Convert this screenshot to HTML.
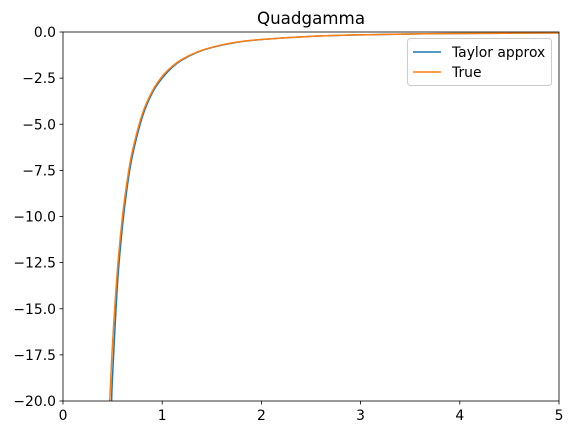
<!DOCTYPE html>
<html><head><meta charset="utf-8"><style>
html,body{margin:0;padding:0;background:#fff;}
svg{display:block;font-family:"DejaVu Sans","Liberation Sans",sans-serif;}
</style></head><body>
<svg id="chart" width="572" height="435" xmlns="http://www.w3.org/2000/svg">
<rect width="572" height="435" fill="#fff"/>
<text x="311" y="24" text-anchor="middle" font-size="16.7">Quadgamma</text>
<g id="plot"></g>
<g id="axes"></g>
<g>
<rect x="407.5" y="38.5" width="144" height="47" rx="3" fill="#fff" fill-opacity="0.8" stroke="#ccc"/>
<line x1="413" y1="52" x2="441" y2="52" stroke="#1f77b4" stroke-width="1.5"/>
<text x="452" y="57" font-size="13.9">Taylor approx</text>
<line x1="413" y1="72" x2="441" y2="72" stroke="#ff7f0e" stroke-width="1.5"/>
<text x="452" y="77" font-size="13.9">True</text>
</g>
</svg>
<script>
const xTicks=[0,1,2,3,4,5];
const yTicks=[0,-2.5,-5,-7.5,-10,-12.5,-15,-17.5,-20];
const yTickLabels=["0.0","−2.5","−5.0","−7.5","−10.0","−12.5","−15.0","−17.5","−20.0"];
const taylorX=[0.49,0.5,0.55,0.6,0.65,0.7,0.8,0.9,1.0,1.1,1.2,1.35,1.5,1.75,2,2.5,3,3.5,4,5];
const taylorY=[-20,-18.6,-13.6,-10.5,-8.3,-6.7,-4.6,-3.3,-2.5,-1.92,-1.52,-1.11,-0.84,-0.56,-0.41,-0.24,-0.155,-0.108,-0.08,-0.049];
const trueX=[0.47,0.5,0.55,0.6,0.65,0.7,0.8,0.9,1.0,1.1,1.2,1.35,1.5,1.75,2,2.5,3,3.5,4,5];
const trueY=[-20.1,-16.83,-12.79,-9.97,-7.94,-6.44,-4.43,-3.2,-2.404,-1.86,-1.48,-1.09,-0.83,-0.55,-0.404,-0.237,-0.154,-0.108,-0.08,-0.049];
const L=63,R=559,T=32,B=401;
const sx=v=>L+(v-0)/(5-0)*(R-L);
const sy=v=>T+(0-v)/(20)*(B-T);
const NS="http://www.w3.org/2000/svg";
const plot=document.getElementById('plot'),axes=document.getElementById('axes');
const defs=document.createElementNS(NS,'defs');
defs.innerHTML='<clipPath id="clip"><rect x="'+L+'" y="'+T+'" width="'+(R-L)+'" height="'+(B-T)+'"/></clipPath>';
document.getElementById('chart').insertBefore(defs,plot);
plot.setAttribute('clip-path','url(#clip)');
function path(xs,ys){
  const p=xs.map((x,i)=>[sx(x),sy(ys[i])]);
  let d='M'+p[0][0]+','+p[0][1];
  for(let i=0;i<p.length-1;i++){
    const p0=p[Math.max(0,i-1)],p1=p[i],p2=p[i+1],p3=p[Math.min(p.length-1,i+2)];
    const c1=[p1[0]+(p2[0]-p0[0])/6,p1[1]+(p2[1]-p0[1])/6];
    const c2=[p2[0]-(p3[0]-p1[0])/6,p2[1]-(p3[1]-p1[1])/6];
    d+=' C'+c1+' '+c2+' '+p2;
  }
  return d;
}
function line(xs,ys,color,name){
  const el=document.createElementNS(NS,'path');
  el.setAttribute('d',path(xs,ys));
  el.setAttribute('fill','none');el.setAttribute('stroke',color);el.setAttribute('stroke-width','1.5');
  
  
  plot.appendChild(el);
}
line(taylorX,taylorY,'#1f77b4','taylor-approx-line');
line(trueX,trueY,'#ff7f0e','true-line');
const frame=document.createElementNS(NS,'rect');
frame.setAttribute('x',L);frame.setAttribute('y',T);frame.setAttribute('width',R-L);frame.setAttribute('height',B-T);
frame.setAttribute('fill','none');frame.setAttribute('stroke','#000');frame.setAttribute('stroke-width','0.8');


axes.appendChild(frame);
xTicks.forEach(v=>{
  const x=sx(v);
  const t=document.createElementNS(NS,'line');
  t.setAttribute('x1',x);t.setAttribute('x2',x);t.setAttribute('y1',B);t.setAttribute('y2',B+3.5);t.setAttribute('stroke','#000');t.setAttribute('stroke-width','0.8');
  
  
  axes.appendChild(t);
  const s=document.createElementNS(NS,'text');
  s.setAttribute('x',x);s.setAttribute('y',B+19);s.setAttribute('text-anchor','middle');s.setAttribute('font-size','13.9');
  s.textContent=String(v);
  
  
  axes.appendChild(s);
});
yTicks.forEach((v,i)=>{
  const y=sy(v);
  const t=document.createElementNS(NS,'line');
  t.setAttribute('x1',L-3.5);t.setAttribute('x2',L);t.setAttribute('y1',y);t.setAttribute('y2',y);t.setAttribute('stroke','#000');t.setAttribute('stroke-width','0.8');
  
  
  axes.appendChild(t);
  const s=document.createElementNS(NS,'text');
  s.setAttribute('x',L-7);s.setAttribute('y',y+5);s.setAttribute('text-anchor','end');s.setAttribute('font-size','13.9');
  s.textContent=yTickLabels[i];
  
  
  axes.appendChild(s);
});
</script>
</body></html>
